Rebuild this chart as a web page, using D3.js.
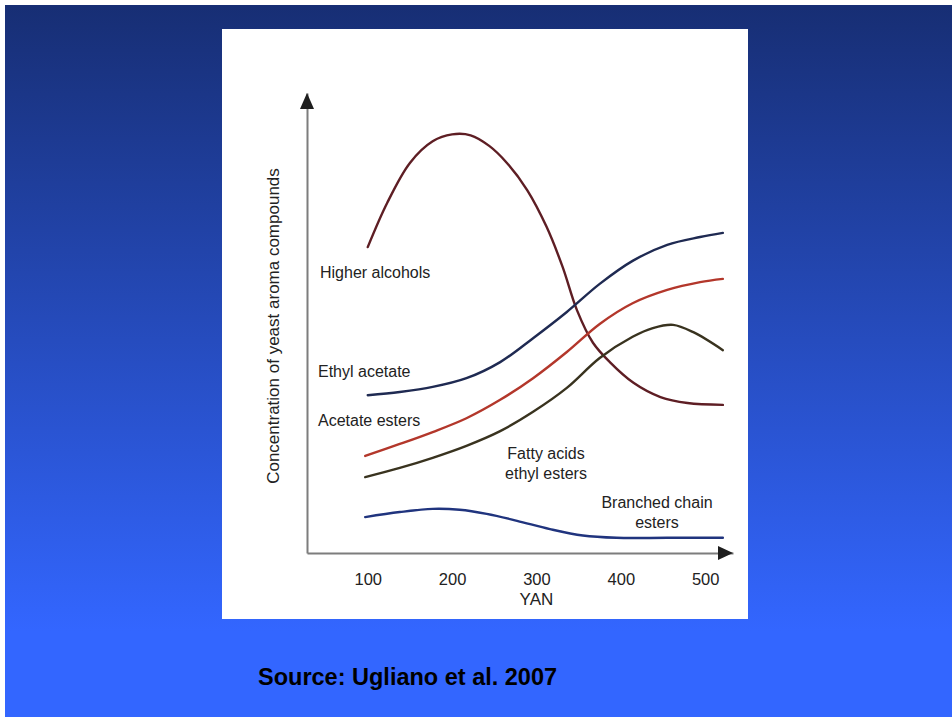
<!DOCTYPE html>
<html>
<head>
<meta charset="utf-8">
<script src="https://cdn.jsdelivr.net/npm/d3@7"></script>
<style>
  body { margin: 0; background: #fff; }
  svg { display: block; }
  text { font-family: "Liberation Sans", Arial, sans-serif; }
</style>
</head>
<body>
<div class="container"></div>
<script>
var width = 952;
var height = 717;

// YAN ticks
var xTicks = [100, 200, 300, 400, 500];

// series (x = YAN, y = relative concentration 0-100)
var higherAlcoholsX = [100, 123, 150, 177, 200, 222, 244, 265, 289, 312, 331, 348, 367, 387, 415, 447, 479, 521];
var higherAlcoholsY = [66.5, 76.1, 84.8, 89.5, 91.0, 90.8, 88.5, 84.8, 78.9, 70.9, 62.2, 52.8, 45.7, 41.5, 37.0, 33.9, 32.6, 32.2];

var ethylAcetateX = [100, 138, 177, 217, 257, 296, 336, 375, 414, 455, 494, 521];
var ethylAcetateY = [34.3, 35.0, 36.1, 38.0, 41.5, 46.7, 52.4, 58.5, 63.5, 67.0, 68.7, 69.6];

var acetateEstersX = [97, 138, 177, 217, 257, 296, 336, 375, 414, 455, 494, 521];
var acetateEstersY = [21.1, 23.7, 26.3, 29.3, 33.3, 38.0, 43.7, 49.8, 54.3, 57.2, 58.9, 59.6];

var fattyAcidsX = [97, 138, 177, 217, 257, 296, 336, 375, 414, 438, 462, 486, 521];
var fattyAcidsY = [16.5, 18.5, 20.7, 23.3, 26.5, 30.7, 35.9, 42.4, 47.0, 48.9, 49.6, 48.0, 44.1];

var branchedX = [97, 138, 177, 209, 241, 277, 316, 355, 395, 455, 521];
var branchedY = [7.8, 8.9, 9.6, 9.4, 8.5, 7.0, 5.2, 3.8, 3.3, 3.3, 3.3];

var seriesNames = ['Higher alcohols', 'Ethyl acetate', 'Acetate esters', 'Fatty acids ethyl esters', 'Branched chain esters'];
var seriesColors = ['#5e1e24', '#1f2a52', '#b3372b', '#39331f', '#20347e'];

var series = [
    {name: seriesNames[0], xs: higherAlcoholsX, ys: higherAlcoholsY, color: seriesColors[0]},
    {name: seriesNames[1], xs: ethylAcetateX, ys: ethylAcetateY, color: seriesColors[1]},
    {name: seriesNames[2], xs: acetateEstersX, ys: acetateEstersY, color: seriesColors[2]},
    {name: seriesNames[3], xs: fattyAcidsX, ys: fattyAcidsY, color: seriesColors[3]},
    {name: seriesNames[4], xs: branchedX, ys: branchedY, color: seriesColors[4]}
];

// labels beside the curves (pixel anchors)
var curveLabels = [
    {lines: ['Higher alcohols'], x: 320, y: 278, anchor: 'start'},
    {lines: ['Ethyl acetate'], x: 318, y: 377, anchor: 'start'},
    {lines: ['Acetate esters'], x: 318, y: 426, anchor: 'start'},
    {lines: ['Fatty acids', 'ethyl esters'], x: 546, y: 459, anchor: 'middle'},
    {lines: ['Branched chain', 'esters'], x: 657, y: 508, anchor: 'middle'}
];

var XScale = d3.scaleLinear()
    .domain([28, 533])
    .range([307, 733]);

var YScale = d3.scaleLinear()
    .domain([0, 100])
    .range([553, 93]);

var translate = function(x, y) {
    return 'translate(' + x + ',' + y + ')';
};

var svg = d3.select('.container').append('svg')
    .attr('width', width)
    .attr('height', height);

var defs = svg.append('defs');
var grad = defs.append('linearGradient')
    .attr('id', 'bg')
    .attr('x1', 0).attr('y1', 0).attr('x2', 0).attr('y2', 1);
grad.append('stop').attr('offset', '0%').attr('stop-color', '#172e74');
grad.append('stop').attr('offset', '88%').attr('stop-color', '#3366ff');
grad.append('stop').attr('offset', '100%').attr('stop-color', '#3366ff');

svg.append('rect')
    .attr('x', 5).attr('y', 5)
    .attr('width', width - 5).attr('height', height - 5)
    .attr('fill', 'url(#bg)');

// white figure panel
svg.append('rect')
    .attr('x', 222).attr('y', 29)
    .attr('width', 526).attr('height', 590)
    .attr('fill', '#ffffff');

// axes
var xAxis = d3.axisBottom(XScale)
    .tickValues(xTicks)
    .tickSize(0)
    .tickPadding(20)
    .tickFormat(d3.format('d'));

var gx = svg.append('g')
    .attr('transform', translate(0, YScale(0)))
    .call(xAxis);
gx.select('.domain').attr('stroke', '#7d7d7d').attr('stroke-width', 2);
gx.selectAll('text')
    .attr('fill', '#222')
    .style('font-size', '16.5px');

var yAxis = d3.axisLeft(YScale).tickValues([]).tickSizeOuter(0);
var gy = svg.append('g')
    .attr('transform', translate(XScale(28), 0))
    .call(yAxis);
gy.select('.domain').attr('stroke', '#7d7d7d').attr('stroke-width', 2);

// arrow heads
var ax = XScale(28), ay = YScale(100);
svg.append('path')
    .attr('d', 'M' + ax + ',' + ay + 'L' + (ax - 7) + ',' + (ay + 16) + 'L' + (ax + 7) + ',' + (ay + 16) + 'Z')
    .attr('fill', '#1e1e1e');
var bx = XScale(533), by = YScale(0);
svg.append('path')
    .attr('d', 'M' + bx + ',' + by + 'L' + (bx - 15) + ',' + (by - 7) + 'L' + (bx - 15) + ',' + (by + 7) + 'Z')
    .attr('fill', '#1e1e1e');

// axis titles
svg.append('text')
    .attr('transform', translate(279, 326) + ' rotate(-90)')
    .attr('text-anchor', 'middle')
    .attr('fill', '#222')
    .style('font-size', '17px')
    .text('Concentration of yeast aroma compounds');

svg.append('text')
    .attr('x', XScale(300))
    .attr('y', 605)
    .attr('text-anchor', 'middle')
    .attr('fill', '#222')
    .style('font-size', '17px')
    .text('YAN');

// curves
var line = d3.line()
    .x(function(d) { return XScale(d[0]); })
    .y(function(d) { return YScale(d[1]); })
    .curve(d3.curveCatmullRom.alpha(0.5));

svg.append('g').selectAll('path')
    .data(series)
    .enter().append('path')
    .attr('d', function(s) { return line(d3.zip(s.xs, s.ys)); })
    .attr('fill', 'none')
    .attr('stroke', function(s) { return s.color; })
    .attr('stroke-width', 2.4)
    .attr('stroke-linecap', 'round');

// curve labels
var lab = svg.append('g').selectAll('text')
    .data(curveLabels)
    .enter().append('text')
    .attr('x', function(d) { return d.x; })
    .attr('y', function(d) { return d.y; })
    .attr('text-anchor', function(d) { return d.anchor; })
    .attr('fill', '#222')
    .style('font-size', '16px');
lab.selectAll('tspan')
    .data(function(d) { return d.lines.map(function(t) { return {t: t, x: d.x}; }); })
    .enter().append('tspan')
    .attr('x', function(d) { return d.x; })
    .attr('dy', function(d, i) { return i === 0 ? 0 : 20; })
    .text(function(d) { return d.t; });

// source note
svg.append('text')
    .attr('x', 258)
    .attr('y', 685)
    .attr('fill', '#000000')
    .style('font-size', '23.5px')
    .style('font-weight', 'bold')
    .text('Source: Ugliano et al. 2007');
</script>
</body>
</html>
